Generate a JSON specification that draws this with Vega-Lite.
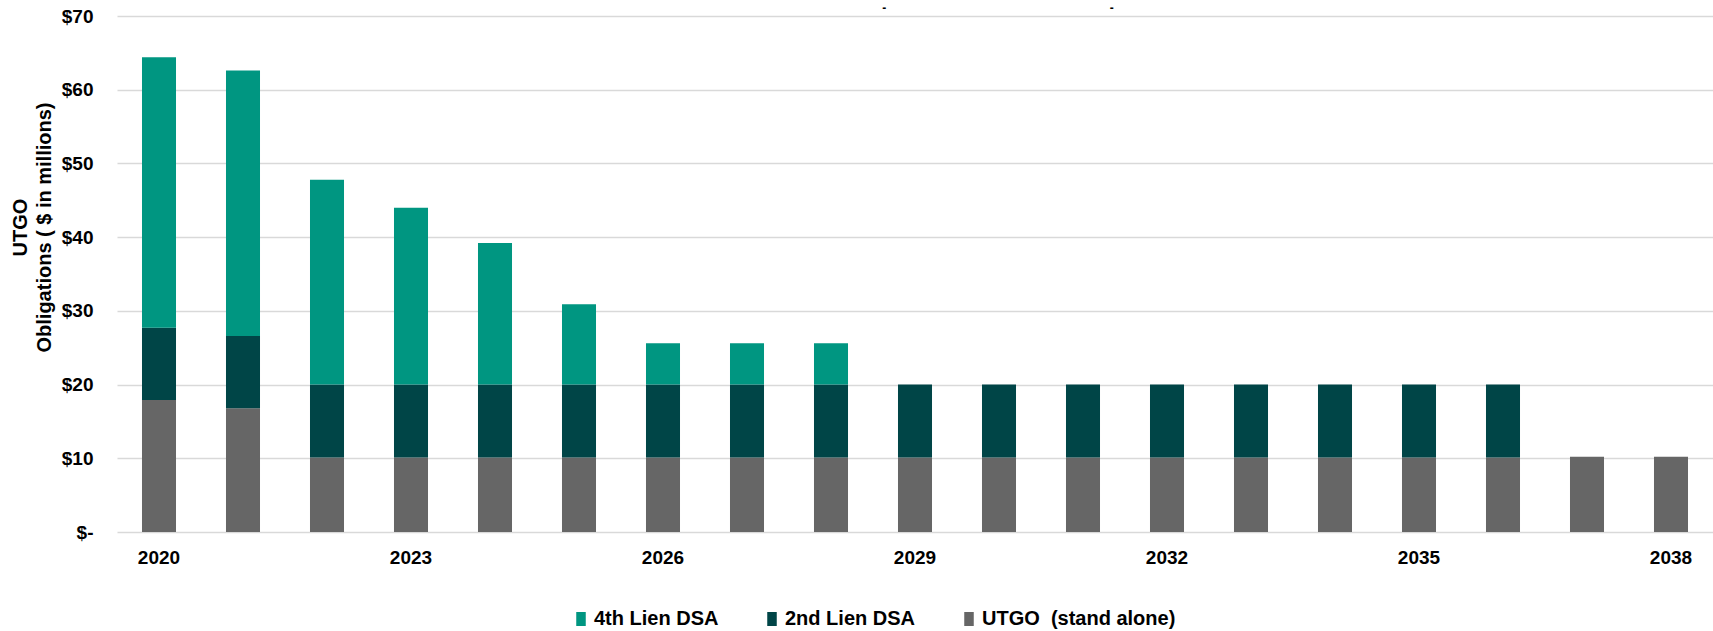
{
  "$schema": "https://vega.github.io/schema/vega-lite/v6.json",
  "autosize": "none",
  "padding": {"left": 117, "top": 16, "right": 0, "bottom": 99},
  "width": 1596,
  "height": 516,
  "background": "white",
  "title": {
    "text": "-\u00a0\u00a0\u00a0\u00a0\u00a0\u00a0\u00a0\u00a0\u00a0\u00a0\u00a0\u00a0\u00a0\u00a0\u00a0\u00a0\u00a0\u00a0\u00a0\u00a0\u00a0\u00a0\u00a0\u00a0\u00a0\u00a0\u00a0\u00a0\u00a0\u00a0\u00a0\u00a0\u00a0\u00a0\u00a0\u00a0\u00a0\u00a0\u00a0\u00a0\u00a0\u00a0\u00a0\u00a0\u00a0\u00a0\u00a0\u00a0\u00a0\u00a0\u00a0\u00a0\u00a0\u00a0\u00a0\u00a0\u00a0\u00a0\u00a0\u00a0\u00a0\u00a0\u00a0\u00a0\u00a0\u00a0\u00a0-",
    "anchor": "middle",
    "dx": 83,
    "offset": -8,
    "font": "Liberation Sans",
    "fontSize": 12,
    "fontWeight": "bold",
    "color": "black"
  },
  "datasets": {
    "bars": [
      {"year": 2020, "series": "UTGO  (stand alone)", "value": 17.9},
      {"year": 2020, "series": "2nd Lien DSA", "value": 9.8},
      {"year": 2020, "series": "4th Lien DSA", "value": 36.7},
      {"year": 2021, "series": "UTGO  (stand alone)", "value": 16.8},
      {"year": 2021, "series": "2nd Lien DSA", "value": 9.8},
      {"year": 2021, "series": "4th Lien DSA", "value": 36.0},
      {"year": 2022, "series": "UTGO  (stand alone)", "value": 10.1},
      {"year": 2022, "series": "2nd Lien DSA", "value": 9.9},
      {"year": 2022, "series": "4th Lien DSA", "value": 27.8},
      {"year": 2023, "series": "UTGO  (stand alone)", "value": 10.1},
      {"year": 2023, "series": "2nd Lien DSA", "value": 9.9},
      {"year": 2023, "series": "4th Lien DSA", "value": 24.0},
      {"year": 2024, "series": "UTGO  (stand alone)", "value": 10.1},
      {"year": 2024, "series": "2nd Lien DSA", "value": 9.9},
      {"year": 2024, "series": "4th Lien DSA", "value": 19.2},
      {"year": 2025, "series": "UTGO  (stand alone)", "value": 10.1},
      {"year": 2025, "series": "2nd Lien DSA", "value": 9.9},
      {"year": 2025, "series": "4th Lien DSA", "value": 10.9},
      {"year": 2026, "series": "UTGO  (stand alone)", "value": 10.1},
      {"year": 2026, "series": "2nd Lien DSA", "value": 9.9},
      {"year": 2026, "series": "4th Lien DSA", "value": 5.6},
      {"year": 2027, "series": "UTGO  (stand alone)", "value": 10.1},
      {"year": 2027, "series": "2nd Lien DSA", "value": 9.9},
      {"year": 2027, "series": "4th Lien DSA", "value": 5.6},
      {"year": 2028, "series": "UTGO  (stand alone)", "value": 10.1},
      {"year": 2028, "series": "2nd Lien DSA", "value": 9.9},
      {"year": 2028, "series": "4th Lien DSA", "value": 5.6},
      {"year": 2029, "series": "UTGO  (stand alone)", "value": 10.1},
      {"year": 2029, "series": "2nd Lien DSA", "value": 9.9},
      {"year": 2030, "series": "UTGO  (stand alone)", "value": 10.1},
      {"year": 2030, "series": "2nd Lien DSA", "value": 9.9},
      {"year": 2031, "series": "UTGO  (stand alone)", "value": 10.1},
      {"year": 2031, "series": "2nd Lien DSA", "value": 9.9},
      {"year": 2032, "series": "UTGO  (stand alone)", "value": 10.1},
      {"year": 2032, "series": "2nd Lien DSA", "value": 9.9},
      {"year": 2033, "series": "UTGO  (stand alone)", "value": 10.1},
      {"year": 2033, "series": "2nd Lien DSA", "value": 9.9},
      {"year": 2034, "series": "UTGO  (stand alone)", "value": 10.1},
      {"year": 2034, "series": "2nd Lien DSA", "value": 9.9},
      {"year": 2035, "series": "UTGO  (stand alone)", "value": 10.1},
      {"year": 2035, "series": "2nd Lien DSA", "value": 9.9},
      {"year": 2036, "series": "UTGO  (stand alone)", "value": 10.1},
      {"year": 2036, "series": "2nd Lien DSA", "value": 9.9},
      {"year": 2037, "series": "UTGO  (stand alone)", "value": 10.2},
      {"year": 2038, "series": "UTGO  (stand alone)", "value": 10.2}
    ],
    "stackorder": [
      {"series": "UTGO  (stand alone)", "rank": 1},
      {"series": "2nd Lien DSA", "rank": 2},
      {"series": "4th Lien DSA", "rank": 3}
    ]
  },
  "data": {"name": "bars"},
  "transform": [
    {"lookup": "series", "from": {"data": {"name": "stackorder"}, "key": "series", "fields": ["rank"]}}
  ],
  "mark": {"type": "bar"},
  "encoding": {
    "x": {
      "field": "year",
      "type": "ordinal",
      "scale": {"paddingInner": 0.595, "paddingOuter": 0.2975},
      "axis": {
        "title": null,
        "values": [2020, 2023, 2026, 2029, 2032, 2035, 2038],
        "labelAngle": 0,
        "ticks": false,
        "domain": false,
        "labelPadding": 16,
        "labelFont": "Liberation Sans",
        "labelFontSize": 19,
        "labelFontWeight": "bold",
        "labelColor": "black"
      }
    },
    "y": {
      "field": "value",
      "type": "quantitative",
      "stack": "zero",
      "scale": {"domain": [0, 70], "nice": false},
      "axis": {
        "title": ["UTGO", "Obligations ( $ in millions)"],
        "values": [0, 10, 20, 30, 40, 50, 60, 70],
        "labelExpr": "datum.value == 0 ? '$-' : '$' + datum.value",
        "ticks": false,
        "domain": false,
        "grid": true,
        "gridColor": "#d9d9d9",
        "gridWidth": 1.5,
        "labelPadding": 24,
        "labelFont": "Liberation Sans",
        "labelFontSize": 19,
        "labelFontWeight": "bold",
        "labelColor": "black",
        "titleFont": "Liberation Sans",
        "titleFontSize": 20,
        "titleFontWeight": "bold",
        "titleColor": "black",
        "titleLineHeight": 24,
        "titlePadding": 7,
        "titleY": 211
      }
    },
    "color": {
      "field": "series",
      "type": "nominal",
      "scale": {
        "domain": ["4th Lien DSA", "2nd Lien DSA", "UTGO  (stand alone)"],
        "range": ["#009681", "#004547", "#666666"]
      },
      "legend": {
        "title": null,
        "orient": "none",
        "legendX": 454,
        "legendY": 593,
        "direction": "horizontal",
        "symbolType": "M-0.68,-1H0.68V1H-0.68Z",
        "symbolSize": 196,
        "symbolStrokeWidth": 0,
        "labelOffset": 3,
        "columnPadding": 43,
        "labelExpr": "replace(datum.label, '  ', ' \u00a0')",
        "labelFont": "Liberation Sans",
        "labelFontSize": 20,
        "labelFontWeight": "bold",
        "labelColor": "black",
        "labelLimit": 400
      }
    },
    "order": {"field": "rank", "type": "quantitative", "sort": "ascending"}
  },
  "config": {
    "view": {"stroke": null}
  }
}
